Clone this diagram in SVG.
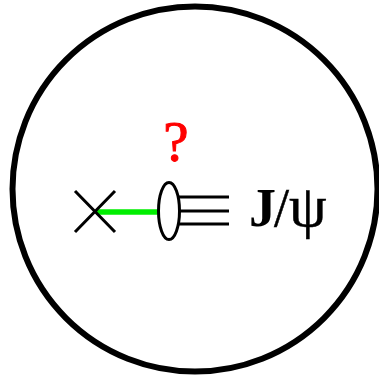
<svg xmlns="http://www.w3.org/2000/svg" width="379" height="377" viewBox="0 0 379 377">
<style>
.k{fill:none;stroke:#000;stroke-width:3}
.t{font-family:"Liberation Serif",serif}
</style>
<rect width="379" height="377" fill="#fff"/>
<circle id="outer" cx="195" cy="189" r="182.500" fill="none" stroke="#000" stroke-width="6"/>
<g id="connectors">
<line x1="96" y1="212" x2="159" y2="212" stroke="#00ee00" stroke-width="5.500"/>
<line class="k" x1="178" y1="197" x2="229" y2="197"/>
<line class="k" x1="180" y1="211" x2="229" y2="211"/>
<line class="k" x1="178" y1="224" x2="229" y2="224"/>
</g>
<g id="cross"><path class="k" d="M75 191L115 232M115 191L75 232"/></g>
<g id="blob"><ellipse class="k" cx="169" cy="211" rx="10.500" ry="28.500"/></g>
<g id="label-q"><text class="t" x="176" y="161" font-size="57" text-anchor="middle" fill="#f00" stroke="#f00" stroke-width="1">?</text></g>
<g id="label-jpsi"><text class="t" y="226" font-size="54" fill="#000"><tspan x="249" font-weight="bold">J</tspan><tspan x="274" font-size="54" stroke="#000" stroke-width="0.500">/</tspan><tspan x="289" font-size="60" stroke="#000" stroke-width="0.500">ψ</tspan></text></g>
</svg>
